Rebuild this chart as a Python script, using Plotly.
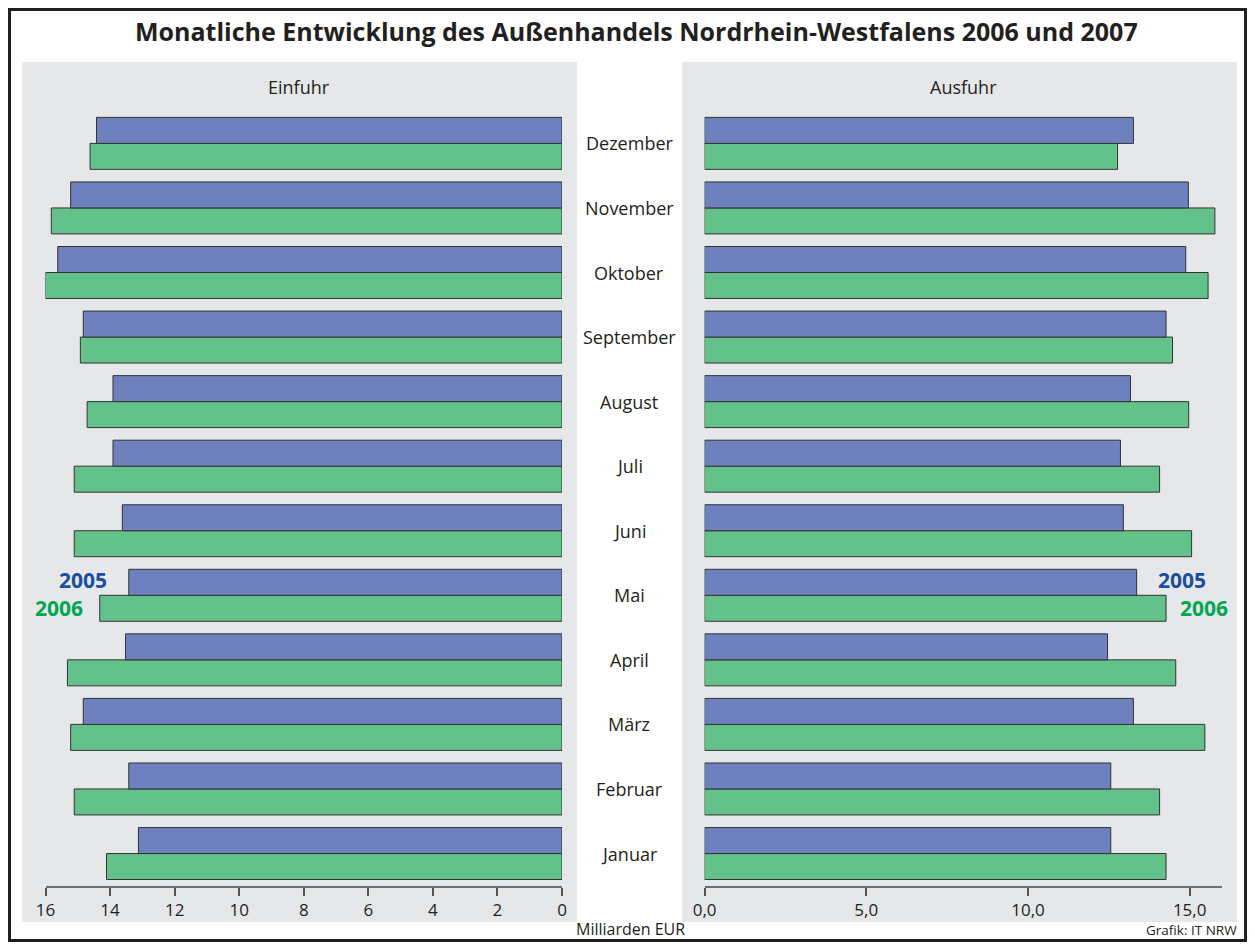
import plotly.graph_objects as go

# The page body has an 8px margin, so the figure is sized to fit the 1255x950 window.
OFF = 8
W, H = 1255 - 2 * OFF, 950 - 2 * OFF

months = ["Januar", "Februar", "März", "April", "Mai", "Juni",
          "Juli", "August", "September", "Oktober", "November", "Dezember"]

einfuhr_2005 = [13.12, 13.42, 14.83, 13.52, 13.42, 13.62, 13.91, 13.91, 14.83, 15.62, 15.22, 14.42]
einfuhr_2006 = [14.11, 15.11, 15.22, 15.32, 14.32, 15.11, 15.11, 14.71, 14.92, 16.00, 15.82, 14.62]
ausfuhr_2005 = [12.56, 12.56, 13.26, 12.46, 13.36, 12.95, 12.86, 13.17, 14.27, 14.88, 14.96, 13.26]
ausfuhr_2006 = [14.27, 14.07, 15.47, 14.57, 14.27, 15.06, 14.07, 14.97, 14.47, 15.57, 15.78, 12.77]

left_ticks = [16, 14, 12, 10, 8, 6, 4, 2, 0]
right_ticks = [0, 5, 10, 15]

BLUE = "#6f80bf"
GREEN = "#63c28a"
EDGE = "#333333"
PANEL = "#e6e7e9"
TXT = "#231f20"
FONT = "Open Sans"


def px(x):
    return (x - OFF) / W


def py(y):
    return 1 - (y - OFF) / H


fig = go.Figure()

# trace order: first trace sits lower within each group
fig.add_trace(go.Bar(y=months, x=einfuhr_2006, orientation="h", name="2006",
                     marker=dict(color=GREEN, line=dict(color=EDGE, width=1)),
                     xaxis="x", yaxis="y"))
fig.add_trace(go.Bar(y=months, x=einfuhr_2005, orientation="h", name="2005",
                     marker=dict(color=BLUE, line=dict(color=EDGE, width=1)),
                     xaxis="x", yaxis="y"))
fig.add_trace(go.Bar(y=months, x=ausfuhr_2006, orientation="h", name="2006",
                     marker=dict(color=GREEN, line=dict(color=EDGE, width=1)),
                     xaxis="x2", yaxis="y2"))
fig.add_trace(go.Bar(y=months, x=ausfuhr_2005, orientation="h", name="2005",
                     marker=dict(color=BLUE, line=dict(color=EDGE, width=1)),
                     xaxis="x2", yaxis="y2"))

ydom = [py(885.8), py(111.1)]

axis_common = dict(showline=True, linecolor="#6d6e71", linewidth=2,
                   ticks="outside", ticklen=8, tickwidth=1.5, tickcolor="#555555",
                   showgrid=False, zeroline=False, fixedrange=True, automargin=False,
                   tickfont=dict(family=FONT, size=17, color=TXT))
yaxis_common = dict(type="category", categoryorder="array", categoryarray=months,
                    range=[-0.5, 11.5], showticklabels=False, showline=False,
                    showgrid=False, zeroline=False, ticks="", fixedrange=True,
                    automargin=False)

fig.update_layout(
    template="none",
    width=W, height=H, autosize=False,
    margin=dict(l=0, r=0, t=0, b=0, pad=0, autoexpand=False),
    paper_bgcolor="white",
    plot_bgcolor="rgba(0,0,0,0)",
    showlegend=False,
    barmode="group",
    bargap=0.195,
    bargroupgap=0,
    separators=",.",
    font=dict(family=FONT, color=TXT),
    xaxis=dict(domain=[px(45.5), px(562)], range=[16, 0], anchor="y",
               tickvals=left_ticks, ticktext=[str(v) for v in left_ticks],
               **axis_common),
    xaxis2=dict(domain=[px(704.6), px(1222)], range=[0, 16], anchor="y2",
                tickvals=right_ticks, tickformat=".1f", **axis_common),
    yaxis=dict(domain=ydom, anchor="x", **yaxis_common),
    yaxis2=dict(domain=ydom, anchor="x2", **yaxis_common),
)

shapes = [
    dict(type="rect", xref="paper", yref="paper", layer="below",
         x0=px(22), x1=px(577), y0=py(922), y1=py(62),
         fillcolor=PANEL, line=dict(width=0)),
    dict(type="rect", xref="paper", yref="paper", layer="below",
         x0=px(682), x1=px(1237), y0=py(922), y1=py(62),
         fillcolor=PANEL, line=dict(width=0)),
    dict(type="rect", xref="paper", yref="paper", layer="above",
         x0=px(9.5), x1=px(1245.5), y0=py(940.5), y1=py(9.5),
         fillcolor="rgba(0,0,0,0)", line=dict(color=TXT, width=3)),
]
fig.update_layout(shapes=shapes)

ann = []


def txt(text, x, y, size, xanchor="center", color=TXT, yref="paper"):
    ann.append(dict(text=text, x=px(x), y=(py(y) if yref == "paper" else y),
                    xref="paper", yref=yref, xanchor=xanchor, yanchor="middle",
                    showarrow=False, borderpad=0,
                    font=dict(family=FONT, size=size, color=color)))


txt("<b>Monatliche Entwicklung des Außenhandels Nordrhein-Westfalens 2006 und 2007</b>",
    636, 31, 25)
txt("Einfuhr", 299, 87, 18)
txt("Ausfuhr", 963, 87, 18)
for m in months:
    txt(m, 629, m, 18, yref="y")
txt("Milliarden EUR", 630, 929, 16)
txt("Grafik: IT NRW", 1238, 930, 13.5, xanchor="right")
# series labels
txt("<b>2005</b>", 108, 580, 21, xanchor="right", color="#1a4fa0")
txt("<b>2006</b>", 84, 608, 21, xanchor="right", color="#00a651")
txt("<b>2005</b>", 1157, 580, 21, xanchor="left", color="#1a4fa0")
txt("<b>2006</b>", 1179, 608, 21, xanchor="left", color="#00a651")
fig.update_layout(annotations=ann)

fig.write_html("out.html")
